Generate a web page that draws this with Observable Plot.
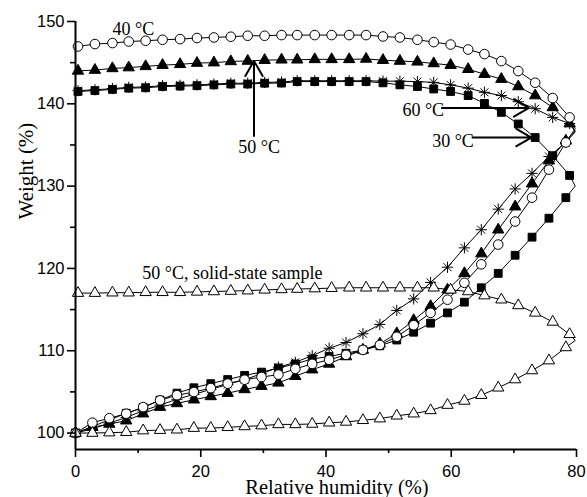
<!DOCTYPE html>
<html>
<head>
<meta charset="utf-8">
<script src="https://cdn.jsdelivr.net/npm/d3@7"></script>
<script src="https://cdn.jsdelivr.net/npm/@observablehq/plot@0.6"></script>
<style>
  html, body { margin: 0; padding: 0; background: #fff; }
</style>
</head>
<body>
<div id="chart"></div>
<script>
// Relative humidity steps (%) of the sorption run, the turning point, and the desorption run
const rhSorption = [0, 2.7, 5.4, 8.1, 10.8, 13.5, 16.2, 18.9, 21.6, 24.3, 27.0, 29.7, 32.4, 35.1, 37.8,
  40.5, 43.2, 45.9, 48.6, 51.3, 54.0, 56.7, 59.4, 62.1, 64.8, 67.5, 70.2, 72.9, 75.6, 78.3];
const rhTurn = 79.8;
const rhDesorption = [78.9, 76.2, 73.4, 70.7, 68.0, 65.3, 62.7, 59.9, 57.2, 54.6, 51.8, 49.1, 46.4, 43.7,
  40.9, 38.2, 35.4, 32.9, 30.2, 27.5, 24.8, 22.1, 19.4, 16.7, 13.9, 11.2, 8.5, 5.9, 3.1, 0.4];

// Weight (%) — 30 °C
const sorp30 = [100.0, 100.8, 101.6, 102.4, 103.1, 104.0, 104.85, 105.5, 106.0, 106.5, 107.0, 107.4, 107.9, 108.4, 109.0,
  109.3, 109.7, 110.1, 110.6, 111.3, 112.25, 113.35, 114.6, 115.9, 117.65, 119.4, 121.6, 123.8, 126.1, 128.6];
const turn30 = 130.0;
const desorp30 = [131.3, 133.7, 135.9, 137.55, 138.96, 140.05, 141.0, 141.5, 141.8, 142.1, 142.3, 142.55, 142.7, 142.7,
  142.7, 142.7, 142.7, 142.52, 142.5, 142.4, 142.4, 142.3, 142.2, 142.15, 142.1, 141.95, 141.9, 141.75, 141.6, 141.5];

// Weight (%) — 40 °C
const sorp40 = [100.0, 101.26, 101.8, 102.35, 103.15, 103.97, 104.6, 104.98, 105.46, 106.0, 106.48, 106.8, 107.1, 107.8, 108.4,
  108.9, 109.5, 110.1, 110.7, 111.7, 113.1, 114.6, 116.2, 118.25, 120.5, 122.9, 125.7, 128.6, 132.0, 135.3];
const turn40 = 137.0;
const desorp40 = [138.35, 140.7, 142.56, 143.98, 145.19, 146.04, 146.6, 147.2, 147.5, 147.78, 148.06, 148.18, 148.35, 148.35,
  148.35, 148.35, 148.35, 148.35, 148.27, 148.27, 148.15, 148.06, 147.99, 147.86, 147.78, 147.66, 147.57, 147.38, 147.26, 146.97];

// Weight (%) — 50 °C
const sorp50 = [100.0, 100.7, 101.1, 101.5, 102.35, 103.15, 103.6, 104.05, 104.45, 104.85, 105.3, 105.7, 106.1, 106.9, 107.7,
  108.4, 109.3, 110.1, 110.85, 112.1, 113.7, 115.4, 117.4, 119.4, 121.8, 124.7, 127.5, 130.3, 133.1, 135.5];
const turn50 = 136.7;
const desorp50 = [137.6, 139.56, 141.0, 142.1, 143.0, 143.6, 144.2, 144.7, 144.9, 145.1, 145.2, 145.3, 145.45, 145.4,
  145.4, 145.4, 145.35, 145.35, 145.3, 145.2, 145.15, 145.0, 144.95, 144.8, 144.7, 144.55, 144.4, 144.3, 144.1, 144.0];

// Weight (%) — 60 °C
const sorp60 = [100.0, 100.5, 101.2, 101.9, 102.7, 103.4, 104.1, 104.7, 105.3, 105.9, 106.5, 107.2, 108.0, 108.6, 109.4,
  110.3, 111.0, 112.06, 113.2, 114.9, 116.3, 118.3, 120.15, 122.5, 124.7, 127.2, 129.66, 131.55, 133.6, 135.3];
const turn60 = 136.6;
const desorp60 = [137.6, 138.35, 139.4, 140.25, 141.0, 141.4, 141.9, 142.3, 142.6, 142.7, 142.75, 142.75, 142.8, 142.8,
  142.8, 142.8, 142.8, 142.65, 142.6, 142.5, 142.5, 142.4, 142.3, 142.25, 142.2, 142.05, 142.0, 141.85, 141.7, 141.6];

// Weight (%) — 50 °C, solid-state sample
const sorpSolid = [100.0, 100.0, 100.05, 100.1, 100.3, 100.35, 100.4, 100.6, 100.6, 100.7, 100.8, 100.9, 101.05, 101.05, 101.1,
  101.25, 101.35, 101.55, 101.75, 102.1, 102.35, 102.75, 103.4, 103.9, 104.6, 105.5, 106.5, 107.6, 108.8, 110.4];
const turnSolid = 111.25;
const desorpSolid = [112.0, 113.5, 114.6, 115.5, 116.2, 116.7, 117.2, 117.4, 117.65, 117.65, 117.65, 117.65, 117.65, 117.65,
  117.6, 117.55, 117.5, 117.45, 117.4, 117.3, 117.25, 117.2, 117.15, 117.1, 117.1, 117.1, 117.05, 117.05, 117.0, 117.0];

// Axis ticks
const xTicks = [0, 20, 40, 60, 80];
const xMinorTicks = [10, 30, 50, 70];
const yTicks = [100, 110, 120, 130, 140, 150];
const yMinorTicks = [105, 115, 125, 135, 145];

// In-plot annotations
const labels = [
  {text: "40 °C", rh: 5.9, w: 148.3},
  {text: "50 °C", rh: 26.0, w: 134.05},
  {text: "60 °C", rh: 52.2, w: 138.55},
  {text: "30 °C", rh: 56.95, w: 134.7},
  {text: "50 °C, solid-state sample", rh: 10.65, w: 118.7}
];
const arrows = [
  {rh1: 28.5, w1: 136.1, rh2: 28.5, w2: 145.2},
  {rh1: 58.5, w1: 139.5, rh2: 72.4, w2: 139.5},
  {rh1: 63.4, w1: 135.9, rh2: 72.8, w2: 135.9}
];

// Eight-armed asterisk marker
const asterisk8 = {
  draw(context, size) {
    const r = Math.sqrt(size / Math.PI);
    const d = r * Math.SQRT1_2;
    context.moveTo(0, -r); context.lineTo(0, r);
    context.moveTo(-r, 0); context.lineTo(r, 0);
    context.moveTo(-d, -d); context.lineTo(d, d);
    context.moveTo(-d, d); context.lineTo(d, -d);
  }
};

const series = [
  {key: "60", sorp: sorp60, turn: turn60, desorp: desorp60, symbol: asterisk8, fill: "none", stroke: "black", r: 5.6},
  {key: "30", sorp: sorp30, turn: turn30, desorp: desorp30, symbol: "square", fill: "black", stroke: "black", r: 4.4},
  {key: "50", sorp: sorp50, turn: turn50, desorp: desorp50, symbol: "triangle", fill: "black", stroke: "black", r: 4.2},
  {key: "40", sorp: sorp40, turn: turn40, desorp: desorp40, symbol: "circle", fill: "white", stroke: "black", r: 4.8},
  {key: "solid", sorp: sorpSolid, turn: turnSolid, desorp: desorpSolid, symbol: "triangle", fill: "white", stroke: "black", r: 4.2}
];

const pointsOf = (s) => [
  ...rhSorption.map((rh, i) => ({key: s.key, rh, w: s.sorp[i]})),
  ...rhDesorption.map((rh, i) => ({key: s.key, rh, w: s.desorp[i]}))
];
const loopOf = (s) => [
  ...rhSorption.map((rh, i) => ({key: s.key, rh, w: s.sorp[i]})),
  {key: s.key, rh: rhTurn, w: s.turn},
  ...rhDesorption.map((rh, i) => ({key: s.key, rh, w: s.desorp[i]}))
];

const serif = "'Liberation Serif', 'Times New Roman', serif";
const sans = "'Liberation Sans', Arial, sans-serif";

const marks = [];
for (const s of series) {
  marks.push(Plot.line(loopOf(s), {x: "rh", y: "w", stroke: "black", strokeWidth: 1}));
}
for (const s of series) {
  marks.push(Plot.dot(pointsOf(s), {
    x: "rh", y: "w", symbol: () => s.symbol, r: s.r,
    fill: s.fill, stroke: s.stroke, strokeWidth: 1
  }));
}

const chart = Plot.plot({
  width: 587,
  height: 497,
  marginLeft: 75,
  marginRight: 11,
  marginTop: 21,
  marginBottom: 48,
  style: {background: "white", overflow: "visible"},
  symbol: {type: "identity"},
  x: {domain: [0, 80], axis: null},
  y: {domain: [98, 150], axis: null},
  marks: [
    ...marks,
    Plot.arrow(arrows, {x1: "rh1", y1: "w1", x2: "rh2", y2: "w2", stroke: "black", strokeWidth: 2, headLength: 13, headAngle: 60}),
    Plot.text(labels, {x: "rh", y: "w", text: "text", textAnchor: "start", lineAnchor: "bottom",
      fontSize: 18, fontFamily: serif, fill: "black"}),
    // axis lines
    Plot.ruleX([0], {y1: 98, y2: 150, stroke: "black", strokeWidth: 2}),
    Plot.ruleY([98], {x1: 0, x2: 80, stroke: "black", strokeWidth: 2}),
    // axes
    Plot.axisX({ticks: xTicks, tickSize: 8, tickPadding: 8, fontSize: 16.5, fontFamily: sans, strokeWidth: 1.6, label: null, tickFormat: d3.format("d")}),
    Plot.axisX({ticks: xMinorTicks, tickSize: 4, tickFormat: () => "", strokeWidth: 1.6, label: null}),
    Plot.axisY({ticks: yTicks, tickSize: 8, tickPadding: 3, fontSize: 16.5, fontFamily: sans, strokeWidth: 1.6, label: null, tickFormat: d3.format("d")}),
    Plot.axisY({ticks: yMinorTicks, tickSize: 5, tickFormat: () => "", strokeWidth: 1.6, label: null}),
    // axis titles
    Plot.text(["Relative humidity (%)"], {frameAnchor: "bottom", dx: 11, dy: 44, lineAnchor: "bottom",
      fontSize: 20.5, fontFamily: serif, fill: "black"}),
    Plot.text(["Weight (%)"], {frameAnchor: "left", dx: -43, dy: -16, rotate: -90, lineAnchor: "bottom",
      fontSize: 21, fontFamily: serif, fill: "black"})
  ]
});

document.getElementById("chart").appendChild(chart);
</script>
</body>
</html>
